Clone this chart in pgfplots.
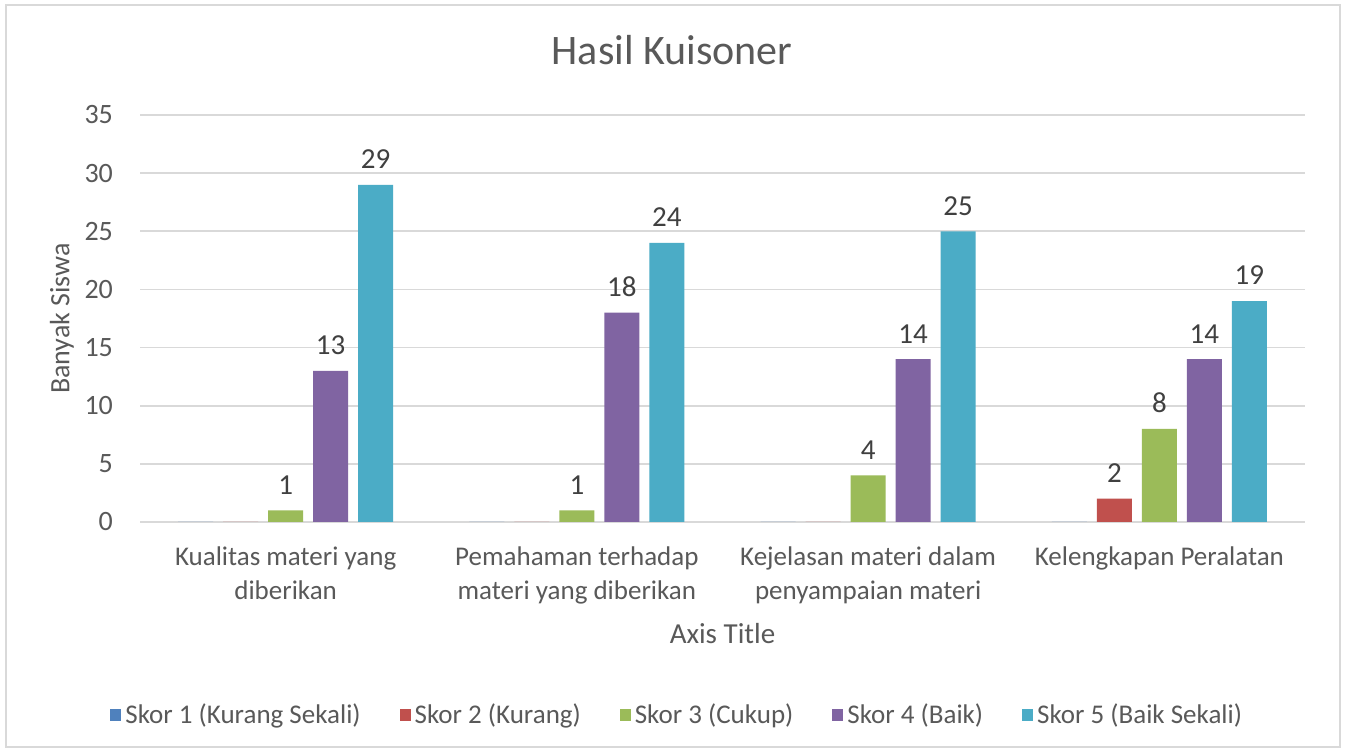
\documentclass[border=0pt]{standalone}
\usepackage{pgfplots}
\pgfplotsset{compat=1.18}
\usepackage{fontspec}
\setmainfont{Carlito}
\definecolor{sA}{HTML}{4F81BD}
\definecolor{sB}{HTML}{C0504D}
\definecolor{sC}{HTML}{9BBB59}
\definecolor{sD}{HTML}{8064A2}
\definecolor{sE}{HTML}{4BACC6}
\definecolor{txt}{HTML}{595959}
\definecolor{lbl}{HTML}{404040}
\definecolor{grd}{HTML}{D9D9D9}
\begin{document}
\begin{tikzpicture}
\useasboundingbox (0,0) rectangle (673pt,377.5pt);
\fill[white] (0,0) rectangle (673pt,377.5pt);
\draw[grd, line width=0.8pt] (3pt,4pt) rectangle (670pt,375pt);
\begin{axis}[
  at={(70pt,116.5pt)}, anchor=south west,
  scale only axis, width=582.5pt, height=203.5pt,
  ybar=5pt, bar width=17.5pt,
  xmin=-0.5, xmax=3.5, ymin=0, ymax=35,
  xtick=data,
  xticklabels={{Kualitas materi yang\\diberikan},{Pemahaman terhadap\\materi yang diberikan},{Kejelasan materi dalam\\penyampaian materi},{Kelengkapan Peralatan}},
  xticklabel style={align=center, font=\fontsize{13.5}{17}\selectfont, text=txt, yshift=-9pt},
  ytick={0,5,...,35},
  yticklabel style={font=\fontsize{14}{16}\selectfont, text=txt, xshift=-10pt},
  /pgf/number format/assume math mode=true,
  major tick length=0pt,
  axis line style={draw=none},
  ymajorgrids, grid style={grd, line width=0.8pt},
  title={Hasil Kuisoner},
  title style={at={(axis description cs:0.4567,1.13)}, anchor=center, font=\fontsize{21}{24}\selectfont, text=txt},
  xlabel={Axis Title},
  xlabel style={at={(axis description cs:0.5,-0.273)}, anchor=center, font=\fontsize{14.5}{16}\selectfont, text=txt},
  ylabel={Banyak Siswa},
  ylabel style={at={(axis description cs:-0.067,0.5)}, anchor=center, rotate=0, font=\fontsize{14}{16}\selectfont, text=txt},
  legend columns=5,
  legend style={at={(axis description cs:0.462,-0.474)}, anchor=center, draw=none, fill=none,
    font=\fontsize{13.5}{15}\selectfont, text=txt,
    /tikz/every even column/.append style={column sep=17.5pt}},
  legend image code/.code={\fill[#1] (0pt,-2.8pt) rectangle (5.5pt,2.8pt);},
  nodes near coords, point meta=explicit symbolic,
  every node near coord/.append style={font=\fontsize{14.5}{16}\selectfont, text=lbl, yshift=4.5pt},
]
\addplot[fill=sA, draw=none] coordinates {(0,0)[] (1,0)[] (2,0)[] (3,0)[]};
\addplot[fill=sB, draw=none] coordinates {(0,0)[] (1,0)[] (2,0)[] (3,2)[2]};
\addplot[fill=sC, draw=none] coordinates {(0,1)[1] (1,1)[1] (2,4)[4] (3,8)[8]};
\addplot[fill=sD, draw=none] coordinates {(0,13)[13] (1,18)[18] (2,14)[14] (3,14)[14]};
\addplot[fill=sE, draw=none] coordinates {(0,29)[29] (1,24)[24] (2,25)[25] (3,19)[19]};
\legend{Skor 1 (Kurang Sekali),Skor 2 (Kurang),Skor 3 (Cukup),Skor 4 (Baik),Skor 5 (Baik Sekali)}
\end{axis}
\end{tikzpicture}
\end{document}
